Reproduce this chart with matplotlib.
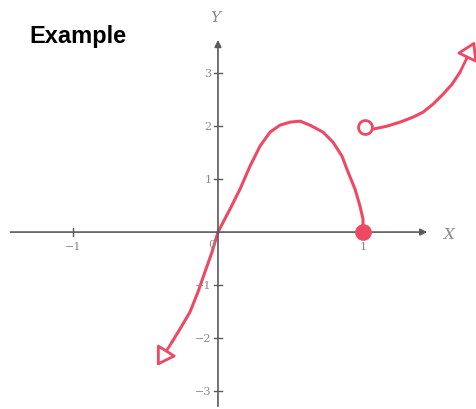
import matplotlib
matplotlib.use('Agg')
import matplotlib.pyplot as plt

# hand-drawn curve, lower branch (arrow end -> filled dot)
curve1_x = [-0.421, -0.366, -0.317, -0.262, -0.193, -0.138, -0.090, -0.041, 0.0,
            0.083, 0.152, 0.221, 0.290, 0.359, 0.428, 0.497, 0.566, 0.634, 0.724,
            0.793, 0.855, 0.897, 0.945, 0.979, 1.0, 1.0]
curve1_y = [-2.528, -2.302, -2.075, -1.830, -1.509, -1.132, -0.755, -0.377, 0.0,
            0.434, 0.811, 1.245, 1.623, 1.887, 2.019, 2.075, 2.094, 2.019, 1.887,
            1.698, 1.434, 1.132, 0.811, 0.491, 0.245, 0.0]

# upper right branch (open circle -> arrow)
curve2_x = [1.014, 1.069, 1.166, 1.255, 1.345, 1.414, 1.483, 1.552, 1.614, 1.669, 1.717, 1.772]
curve2_y = [1.981, 1.943, 2.000, 2.075, 2.170, 2.264, 2.415, 2.604, 2.792, 3.019, 3.226, 3.604]

y_ticks = [-3, -2, -1, 1, 2, 3]
x_ticks = [-1, 1]

red = '#ee4863'
axis_col = '#5a5a5a'
label_col = '#8a8a8a'

fig = plt.figure(figsize=(4.77, 4.10), dpi=100)
ax = fig.add_axes([0, 0, 1, 1])
ax.set_xlim(-1.503, 1.786)
ax.set_ylim(-3.34, 4.40)
ax.axis('off')

# axes with arrows
ax.annotate('', xy=(1.462, 0), xytext=(-1.45, 0),
            arrowprops=dict(arrowstyle='-|>', color=axis_col, lw=1.2, mutation_scale=10))
ax.annotate('', xy=(0, 3.68), xytext=(0, -3.34),
            arrowprops=dict(arrowstyle='-|>', color=axis_col, lw=1.2, mutation_scale=10))

for t in y_ticks:
    ax.plot([-0.03, 0.03], [t, t], color=axis_col, lw=1.0)
    ax.text(-0.045, t, '\u2212%d' % -t if t < 0 else str(t), ha='right', va='center',
            family='DejaVu Serif', fontsize=8, color=label_col)
for t in x_ticks:
    ax.plot([t, t], [-0.08, 0.08], color=axis_col, lw=1.0)
    ax.text(t, -0.17, '\u2212%d' % -t if t < 0 else str(t), ha='center', va='top',
            family='DejaVu Serif', fontsize=8, color=label_col)
ax.text(-0.02, -0.13, '0', ha='right', va='top', family='DejaVu Serif',
        fontsize=8, color=label_col)

ax.text(1.56, -0.04, 'X', ha='left', va='center', family='DejaVu Serif',
        style='italic', fontsize=11, color=label_col)
ax.text(-0.02, 4.06, 'Y', ha='center', va='center', family='DejaVu Serif',
        style='italic', fontsize=11, color=label_col)

# curves
ax.plot(curve1_x[2:], curve1_y[2:], color=red, lw=2.2, solid_capstyle='round',
        solid_joinstyle='round')
ax.plot(curve2_x[:-2], curve2_y[:-2], color=red, lw=2.2, solid_capstyle='round',
        solid_joinstyle='round')

head = '-|>,head_length=0.45,head_width=0.28'
ax.annotate('', xy=(curve1_x[0], curve1_y[0]), xytext=(curve1_x[2], curve1_y[2]),
            arrowprops=dict(arrowstyle=head, fc='white', ec=red, lw=2.0, mutation_scale=24,
                            shrinkA=0, shrinkB=0))
ax.annotate('', xy=(curve2_x[-1], curve2_y[-1]), xytext=(curve2_x[-3], curve2_y[-3]),
            arrowprops=dict(arrowstyle=head, fc='white', ec=red, lw=2.0, mutation_scale=24,
                            shrinkA=0, shrinkB=0))

ax.plot([curve1_x[-1]], [curve1_y[-1]], 'o', color=red, ms=11, zorder=5)
ax.plot([curve2_x[0]], [curve2_y[0]], 'o', mfc='white', mec=red, mew=2.0, ms=10, zorder=5)

ax.text(-1.30, 3.72, 'Example', ha='left', va='center', family='Liberation Sans',
        weight='bold', fontsize=17, color='black')

fig.savefig('out.png', dpi=100)
